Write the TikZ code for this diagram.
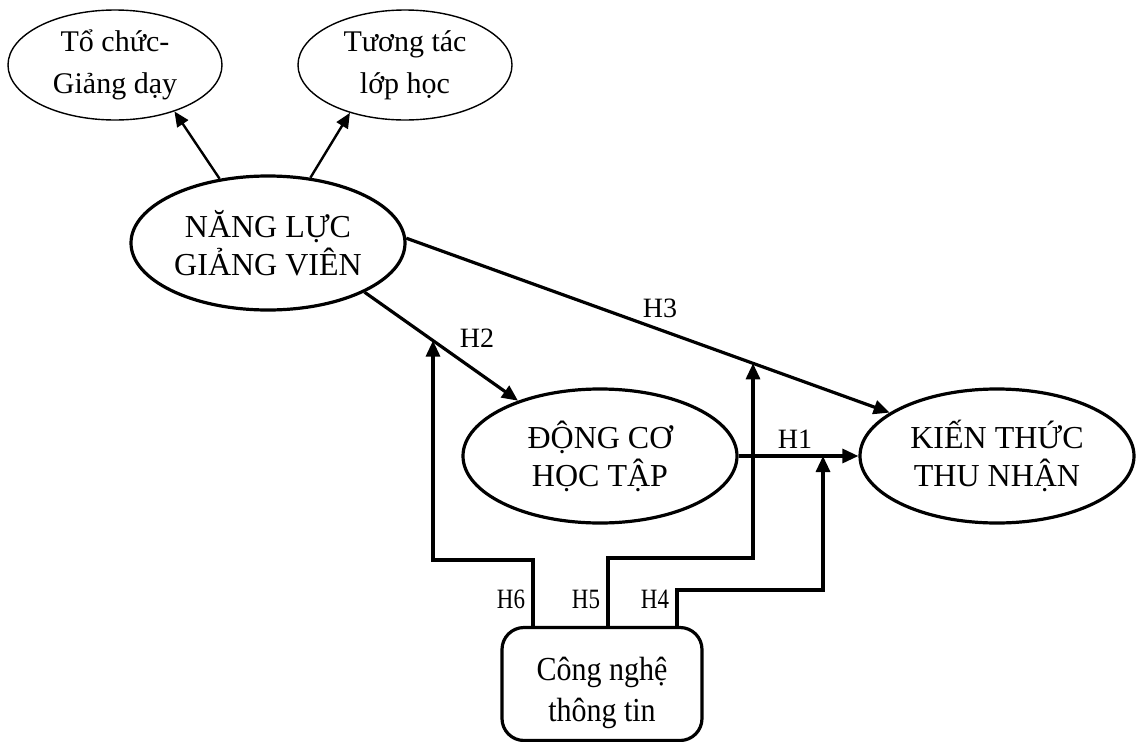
\documentclass[tikz,border=0pt]{standalone}
\usepackage{fontspec}
\setmainfont{Liberation Serif}
\usetikzlibrary{arrows.meta,shapes.geometric,intersections}
\begin{document}
\begin{tikzpicture}[x=1pt,y=-1pt,
  big/.style={ellipse,draw,line width=3.2pt,minimum width=274pt,minimum height=134pt,inner sep=0pt,align=center,font=\fontsize{32}{38}\selectfont},
  small/.style={ellipse,draw,line width=1.4pt,minimum width=214pt,minimum height=110pt,inner sep=0pt,align=center,font=\fontsize{30}{42}\selectfont},
  itbox/.style={draw,rounded corners=22pt,line width=3.2pt,minimum width=200pt,minimum height=113pt,inner sep=0pt,align=center,font=\fontsize{30}{37}\selectfont},
  arr/.style={line width=3.2pt,-{Triangle[length=16pt,width=14pt]}},
  thinarr/.style={line width=2.4pt,-{Triangle[length=15pt,width=13pt]}},
  lbl/.style={inner sep=0pt,font=\fontsize{28}{30}\selectfont},
  hlbl/.style={inner sep=0pt,font=\fontsize{28}{30}\selectfont}]
\useasboundingbox (0,0) rectangle (1136,742);
\node[small] (tc) at (115,65) {Tổ chức-\\Giảng dạy};
\node[small] (tt) at (405,65) {Tương tác\\lớp học};
\node[big] (nl) at (268,243) {NĂNG LỰC\\GIẢNG VIÊN};
\node[big] (dc) at (600,456) {ĐỘNG CƠ\\HỌC TẬP};
\node[big] (kt) at (997,456) {KIẾN THỨC\\THU NHẬN};
\node[itbox] (cn) at (602,684) {\rule{0pt}{41pt}\scalebox{1}[1.12]{Công nghệ}\\[4pt]\scalebox{1}[1.12]{thông tin}};

\draw[thinarr] (nl.127) -- (tc.-38);
\draw[thinarr] (nl.57) -- (tt.-139);
\draw[arr,name path=h2] (nl.-27) -- (dc.146);
\draw[arr,name path=h3] (nl.2) -- (kt.158);
\draw[arr,name path=h1] (dc.east) -- (kt.west);

\path[name path=v6] (433,250) -- (433,450);
\path[name path=v5] (753,250) -- (753,450);
\path[name path=v4] (823,400) -- (823,500);
\path[name intersections={of=h2 and v6,by=p6}];
\path[name intersections={of=h3 and v5,by=p5}];
\path[name intersections={of=h1 and v4,by=p4}];

\coordinate (b6) at ([xshift=-69pt]cn.north);
\coordinate (b5) at ([xshift=6pt]cn.north);
\coordinate (b4) at ([xshift=75pt]cn.north);
\draw[arr] (b6) -- ++(0,-66) -| (p6);
\draw[arr] (b5) -- ++(0,-68) -| (p5);
\draw[arr] (b4) -- ++(0,-36) -| (p4);

\node[lbl] (l3) at (660,308) {H3};
\node[lbl] (l2) at (477,338) {H2};
\node[lbl] (l1) at (795,439) {H1};
\node[hlbl] (l6) at (511,599) {\scalebox{0.82}[1]{H6}};
\node[hlbl] (l5) at (586,599) {\scalebox{0.82}[1]{H5}};
\node[hlbl] (l4) at (655,599) {\scalebox{0.82}[1]{H4}};
\end{tikzpicture}
\end{document}
